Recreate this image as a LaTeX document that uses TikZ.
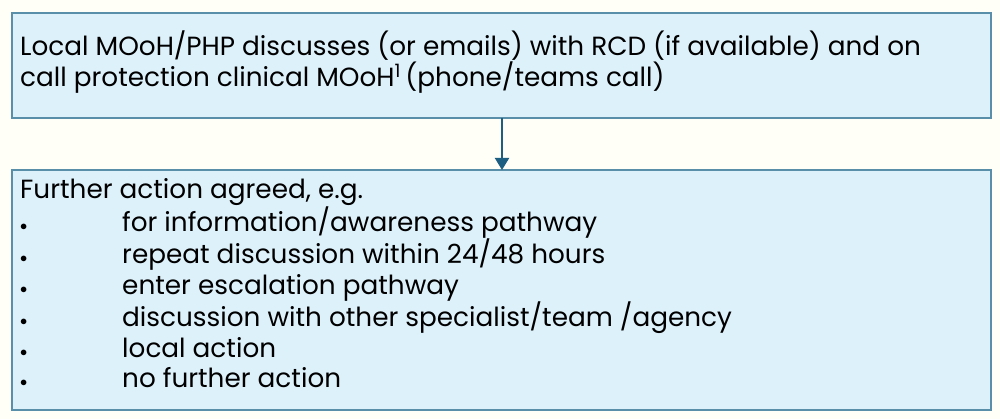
\documentclass[tikz,border=0pt]{standalone}
\usepackage{fontspec}
\setmainfont{Poppins}
\usetikzlibrary{arrows.meta}
\definecolor{boxfill}{HTML}{DDF1FB}
\definecolor{boxline}{HTML}{5A8FAA}
\definecolor{arr}{HTML}{1D5F82}
\definecolor{bg}{HTML}{FFFFF7}
\newcommand{\bul}{\makebox[0pt][l]{\raisebox{1pt}{\Large$\bullet$}}\hspace{102pt}}
\begin{document}
\begin{tikzpicture}[x=1pt,y=-1pt,
  box/.style={draw=boxline,fill=boxfill,line width=1.2pt},
  txt/.style={anchor=north west,align=left,font=\fontsize{26.3}{30.5}\selectfont,inner sep=0pt}]
\fill[bg] (0,0) rectangle (1000,419);
\useasboundingbox (0,0) rectangle (1000,419);
\draw[box] (12,13) rectangle (991,118);
\draw[box] (12,170) rectangle (991,410);
\node[txt] (t1) at (20,31) {Local MOoH/PHP discusses (or emails) with RCD (if available) and on\\call protection clinical MOoH\textsuperscript{1}\,(phone/teams call)};
\node[txt] (t2) at (20,178) {Further action agreed, e.g.\\
\bul for information/awareness pathway\\
\bul repeat discussion within 24/48 hours\\
\bul enter escalation pathway\\
\bul discussion with other specialist/team /agency\\
\bul local action\\
\bul no further action};
\coordinate (a) at (502,118);
\coordinate (b) at (502,170);
\draw[arr,line width=2pt,-{Triangle[length=12pt,width=14pt]}] (a) -- (b);
\end{tikzpicture}
\end{document}
